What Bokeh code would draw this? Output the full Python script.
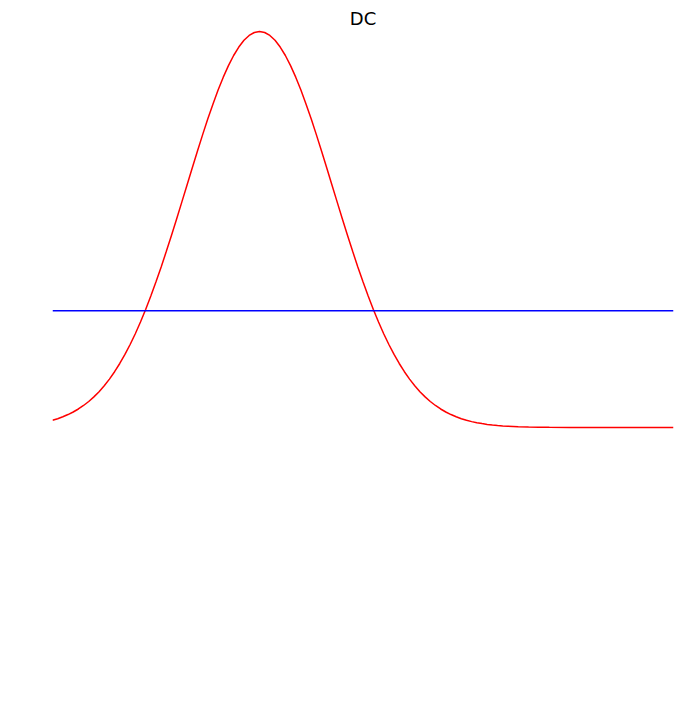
from bokeh.plotting import figure
from bokeh.models import Range1d
from bokeh.embed import file_html
from bokeh.resources import INLINE

# Signal samples
t = [-1.000, -0.975, -0.950, -0.925, -0.900, -0.875, -0.850, -0.825, -0.800, -0.775,
     -0.750, -0.725, -0.700, -0.675, -0.650, -0.625, -0.600, -0.575, -0.550, -0.525,
     -0.500, -0.475, -0.450, -0.425, -0.400, -0.375, -0.350, -0.325, -0.300, -0.275,
     -0.250, -0.225, -0.200, -0.175, -0.150, -0.125, -0.100, -0.075, -0.050, -0.025,
     0.000, 0.025, 0.050, 0.075, 0.100, 0.125, 0.150, 0.175, 0.200, 0.225,
     0.250, 0.275, 0.300, 0.325, 0.350, 0.375, 0.400, 0.425, 0.450, 0.475,
     0.500, 0.525, 0.550, 0.575, 0.600, 0.625, 0.650, 0.675, 0.700, 0.725,
     0.750, 0.775, 0.800, 0.825, 0.850, 0.875, 0.900, 0.925, 0.950, 0.975,
     1.000, 1.025, 1.050, 1.075, 1.100, 1.125, 1.150, 1.175, 1.200, 1.250,
     1.300, 1.350, 1.400, 1.500, 1.600, 1.700, 1.800, 1.900, 2.000]
signal = [0.0183, 0.0223, 0.0271, 0.0327, 0.0392, 0.0468, 0.0556, 0.0657, 0.0773, 0.0904,
          0.1054, 0.1222, 0.1409, 0.1617, 0.1845, 0.2096, 0.2369, 0.2665, 0.2982, 0.3321,
          0.3679, 0.4056, 0.4449, 0.4855, 0.5273, 0.5698, 0.6126, 0.6554, 0.6977, 0.7390,
          0.7788, 0.8166, 0.8521, 0.8847, 0.9139, 0.9394, 0.9608, 0.9778, 0.9900, 0.9975,
          1.0000, 0.9975, 0.9900, 0.9778, 0.9608, 0.9394, 0.9139, 0.8847, 0.8521, 0.8166,
          0.7788, 0.7390, 0.6977, 0.6554, 0.6126, 0.5698, 0.5273, 0.4855, 0.4449, 0.4056,
          0.3679, 0.3321, 0.2982, 0.2665, 0.2369, 0.2096, 0.1845, 0.1617, 0.1409, 0.1222,
          0.1054, 0.0904, 0.0773, 0.0657, 0.0556, 0.0468, 0.0392, 0.0327, 0.0271, 0.0223,
          0.0183, 0.0149, 0.0122, 0.0099, 0.0079, 0.0063, 0.0050, 0.0040, 0.0032, 0.0019,
          0.0012, 0.0007, 0.0004, 0.0001, 0.0000, 0.0000, 0.0000, 0.0000, 0.0000]
dc_x = [-1.0, 2.0]
dc_level = [0.295, 0.295]

p = figure(width=681, height=686, output_backend="svg", toolbar_location=None,
           title="DC", min_border_left=52, min_border_right=8,
           min_border_top=28, min_border_bottom=0)
p.x_range = Range1d(-1.0, 2.0)
p.y_range = Range1d(-0.6540, 1.0076)
p.axis.visible = False
p.grid.visible = False
p.outline_line_color = None
p.title.align = "center"
p.title.text_font = "DejaVu Sans"
p.title.text_font_size = "18px"
p.title.text_font_style = "normal"
p.title.text_color = "black"
p.title.standoff = 0

p.line(t, signal, line_color="red", line_width=1.5)
p.line(dc_x, dc_level, line_color="blue", line_width=1.5)

open("out.html", "w").write(file_html(p, INLINE))
